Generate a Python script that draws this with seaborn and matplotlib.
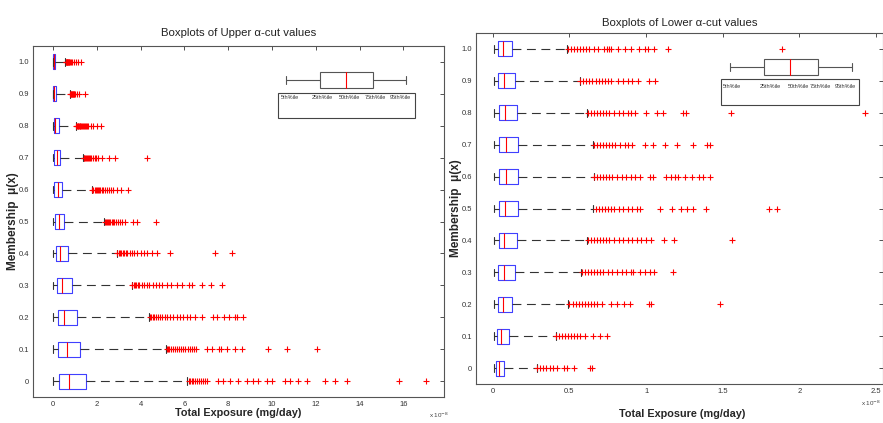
import numpy as np
import pandas as pd
import matplotlib
matplotlib.use("Agg")
import matplotlib.pyplot as plt
from matplotlib.patches import Rectangle
import seaborn as sns

# ---------------- data ----------------
levels = [0.0, 0.1, 0.2, 0.3, 0.4, 0.5, 0.6, 0.7, 0.8, 0.9, 1.0]
level_labels = ["0", "0.1", "0.2", "0.3", "0.4", "0.5", "0.6", "0.7", "0.8", "0.9", "1.0"]

# Upper alpha-cut (x 1e-8)
up_lo = [0.0, 0.0, 0.0, 0.0, 0.0, 0.0, 0.0, 0.0, 0.0, 0.0, 0.0]
up_q1 = [0.29, 0.24, 0.21, 0.17, 0.12, 0.09, 0.06, 0.05, 0.03, 0.01, 0.01]
up_med = [0.74, 0.62, 0.50, 0.43, 0.33, 0.27, 0.21, 0.17, 0.10, 0.06, 0.05]
up_q3 = [1.49, 1.25, 1.08, 0.85, 0.70, 0.52, 0.42, 0.30, 0.26, 0.15, 0.10]
up_hi = [6.13, 5.15, 4.37, 3.61, 2.91, 2.34, 1.78, 1.38, 1.06, 0.79, 0.55]

up_out_00 = [6.20, 6.26, 6.33, 6.40, 6.48, 6.56, 6.65, 6.75, 6.85, 6.95, 7.05, 7.55, 7.78, 8.08, 8.46,
             8.84, 9.15, 9.37, 9.76, 9.99, 10.59, 10.82, 11.20, 11.58, 12.42, 12.89, 13.44, 15.81, 17.02]
up_out_01 = [5.19, 5.25, 5.32, 5.40, 5.48, 5.56, 5.65, 5.75, 5.85, 5.95, 6.05, 6.18, 6.25, 6.35, 6.45,
             6.55, 7.02, 7.26, 7.58, 7.68, 7.93, 8.32, 8.63, 9.82, 10.70, 12.04]
up_out_02 = [4.42, 4.48, 4.55, 4.62, 4.70, 4.80, 4.90, 5.00, 5.10, 5.22, 5.35, 5.50, 5.65, 5.80, 5.95,
             6.10, 6.26, 6.48, 6.80, 7.29, 7.47, 7.81, 8.02, 8.30, 8.39, 8.66]
up_out_03 = [3.62, 3.68, 3.74, 3.80, 3.87, 3.95, 4.05, 4.15, 4.28, 4.40, 4.55, 4.70, 4.85, 5.00, 5.20,
             5.40, 5.65, 5.88, 6.23, 6.35, 6.79, 7.21, 7.72]
up_out_04 = [2.94, 3.00, 3.06, 3.12, 3.18, 3.25, 3.32, 3.40, 3.50, 3.60, 3.72, 3.85, 4.00, 4.15, 4.30,
             4.50, 4.73, 5.34, 7.41, 8.19]
up_out_05 = [2.37, 2.42, 2.47, 2.52, 2.57, 2.62, 2.68, 2.74, 2.80, 2.88, 2.96, 3.05, 3.15, 3.29, 3.64,
             3.85, 4.69]
up_out_06 = [1.80, 1.85, 1.90, 1.95, 2.00, 2.05, 2.10, 2.16, 2.22, 2.30, 2.38, 2.46, 2.55, 2.65, 2.75,
             2.91, 3.09, 3.44]
up_out_07 = [1.40, 1.44, 1.48, 1.52, 1.56, 1.60, 1.65, 1.70, 1.76, 1.82, 1.90, 1.98, 2.07, 2.22, 2.57,
             2.82, 4.30]
up_out_08 = [1.07, 1.10, 1.13, 1.16, 1.19, 1.22, 1.25, 1.28, 1.32, 1.36, 1.40, 1.45, 1.50, 1.56, 1.62,
             1.72, 1.84, 2.00, 2.18]
up_out_09 = [0.80, 0.82, 0.84, 0.86, 0.88, 0.90, 0.92, 0.95, 0.98, 1.01, 1.11, 1.20, 1.46]
up_out_10 = [0.58, 0.60, 0.62, 0.64, 0.66, 0.68, 0.70, 0.72, 0.75, 0.78, 0.82, 0.86, 0.95, 1.05, 1.15, 1.28]
up_outliers = [up_out_00, up_out_01, up_out_02, up_out_03, up_out_04, up_out_05,
               up_out_06, up_out_07, up_out_08, up_out_09, up_out_10]

# Lower alpha-cut
lo_lo = [0.006, 0.006, 0.006, 0.006, 0.006, 0.006, 0.006, 0.006, 0.006, 0.006, 0.006]
lo_q1 = [0.019, 0.026, 0.032, 0.032, 0.037, 0.037, 0.039, 0.039, 0.037, 0.032, 0.032]
lo_med = [0.037, 0.052, 0.065, 0.071, 0.075, 0.080, 0.086, 0.086, 0.080, 0.071, 0.065]
lo_q3 = [0.074, 0.103, 0.123, 0.142, 0.155, 0.161, 0.161, 0.161, 0.157, 0.145, 0.123]
lo_hi = [0.290, 0.409, 0.493, 0.577, 0.617, 0.654, 0.658, 0.656, 0.617, 0.568, 0.486]

lo_out_00 = [0.29, 0.31, 0.33, 0.35, 0.37, 0.39, 0.42, 0.463, 0.484, 0.527, 0.635, 0.65]
lo_out_01 = [0.41, 0.43, 0.45, 0.47, 0.49, 0.51, 0.53, 0.55, 0.57, 0.60, 0.652, 0.699, 0.742]
lo_out_02 = [0.50, 0.52, 0.54, 0.56, 0.58, 0.60, 0.62, 0.64, 0.66, 0.68, 0.71, 0.774, 0.813, 0.854,
             0.893, 1.018, 1.032, 1.484]
lo_out_03 = [0.58, 0.60, 0.62, 0.64, 0.66, 0.68, 0.70, 0.72, 0.75, 0.78, 0.81, 0.84, 0.87, 0.90,
             0.914, 0.957, 0.994, 1.024, 1.054, 1.174]
lo_out_04 = [0.62, 0.64, 0.66, 0.68, 0.70, 0.72, 0.74, 0.76, 0.79, 0.82, 0.85, 0.88, 0.91, 0.94,
             0.97, 1.00, 1.03, 1.12, 1.183, 1.56]
lo_out_05 = [0.67, 0.69, 0.71, 0.73, 0.75, 0.77, 0.79, 0.82, 0.85, 0.88, 0.91, 0.94, 0.96, 1.088,
             1.172, 1.23, 1.266, 1.308, 1.394, 1.80, 1.856]
lo_out_06 = [0.66, 0.68, 0.70, 0.72, 0.74, 0.76, 0.78, 0.81, 0.84, 0.87, 0.90, 0.93, 0.96, 1.024,
             1.043, 1.13, 1.161, 1.187, 1.209, 1.252, 1.301, 1.344, 1.37, 1.415]
lo_out_07 = [0.66, 0.68, 0.70, 0.72, 0.74, 0.76, 0.78, 0.80, 0.83, 0.86, 0.88, 0.905, 0.994, 1.043,
             1.125, 1.20, 1.303, 1.398, 1.419]
lo_out_08 = [0.62, 0.64, 0.66, 0.68, 0.70, 0.72, 0.74, 0.76, 0.79, 0.82, 0.85, 0.88, 0.90, 0.925,
             1.00, 1.07, 1.108, 1.241, 1.258, 1.557, 2.43]
lo_out_09 = [0.57, 0.59, 0.61, 0.63, 0.65, 0.67, 0.69, 0.71, 0.73, 0.75, 0.774, 0.817, 0.85, 0.88,
             0.91, 0.945, 1.02, 1.06]
lo_out_10 = [0.49, 0.51, 0.53, 0.55, 0.57, 0.59, 0.61, 0.63, 0.66, 0.688, 0.725, 0.742, 0.757, 0.774,
             0.817, 0.865, 0.90, 0.955, 0.994, 1.015, 1.054, 1.14, 1.89]
lo_outliers = [lo_out_00, lo_out_01, lo_out_02, lo_out_03, lo_out_04, lo_out_05,
               lo_out_06, lo_out_07, lo_out_08, lo_out_09, lo_out_10]

legend_labels = ["5th%ile", "25th%ile", "50th%ile", "75th%ile", "95th%ile"]

# ---------------- style ----------------
sns.set_style("white")
plt.rcParams["font.family"] = ["Liberation Sans", "DejaVu Sans"]
plt.rcParams["axes.linewidth"] = 0.8

W, H = 883, 423
fig = plt.figure(figsize=(W / 100, H / 100), dpi=100)
axL = fig.add_axes([33 / W, (H - 397) / H, 411 / W, 351 / H])
axR = fig.add_axes([476 / W, (H - 384) / H, 407 / W, 351 / H])


def draw_panel(ax, lo, q1, med, q3, hi, outliers):
    rows = []
    for i, lev in enumerate(levels):
        for v in (lo[i], q1[i], med[i], q3[i], hi[i]):
            rows.append((lev, v))
    df = pd.DataFrame(rows, columns=["level", "value"])
    sns.boxplot(data=df, x="value", y="level", orient="h", native_scale=True,
                whis=(0, 100), width=0.47, fill=False, color="blue", linewidth=0.8,
                showfliers=False, ax=ax,
                boxprops=dict(color="#4040ff"),
                whiskerprops=dict(color="#333333", linestyle=(0, (8, 5))),
                capprops=dict(color="#333333"),
                medianprops=dict(color="red"))
    orows = []
    for i, lev in enumerate(levels):
        for v in outliers[i]:
            orows.append((lev, v))
    odf = pd.DataFrame(orows, columns=["level", "value"])
    sns.scatterplot(data=odf, x="value", y="level", marker="+", color="red",
                    s=24, linewidth=0.8, ax=ax, legend=False, zorder=3)
    ax.set_ylim(-0.05, 1.05)
    ax.set_yticks(levels)
    ax.set_yticklabels(level_labels)
    ax.tick_params(direction="in", top=True, right=True, length=3, width=0.6,
                   labelsize=5.5, colors="#333333", labelcolor="#333333", pad=3)
    for s in ax.spines.values():
        s.set_color("#555555")
        s.set_visible(True)


def draw_legend(ax, rect, wy, box, whisk, med_x, lab_y, lab_x):
    t = ax.transAxes
    ax.add_patch(Rectangle((rect[0], rect[1]), rect[2] - rect[0], rect[3] - rect[1],
                           transform=t, fill=False, edgecolor="#444444", lw=0.8, zorder=4))
    ax.plot([whisk[0], box[0]], [wy, wy], transform=t, color="#555555", lw=0.8, zorder=4)
    ax.plot([box[1], whisk[1]], [wy, wy], transform=t, color="#555555", lw=0.8, zorder=4)
    for xx in whisk:
        ax.plot([xx, xx], [wy - 0.012, wy + 0.012], transform=t, color="#555555", lw=0.8, zorder=4)
    ax.add_patch(Rectangle((box[0], wy - 0.022), box[1] - box[0], 0.044, transform=t,
                           fill=False, edgecolor="#555555", lw=0.8, zorder=4))
    ax.plot([med_x, med_x], [wy - 0.022, wy + 0.022], transform=t, color="red", lw=0.8, zorder=5)
    for lab, xx in zip(legend_labels, lab_x):
        ax.text(xx, lab_y, lab, transform=t, fontsize=4, ha="center", va="center", color="#333333")


draw_panel(axL, up_lo, up_q1, up_med, up_q3, up_hi, up_outliers)
axL.set_xlim(-0.91, 17.85)
axL.set_xticks([0, 2, 4, 6, 8, 10, 12, 14, 16])
axL.set_xticklabels(["0", "2", "4", "6", "8", "10", "12", "14", "16"])
axL.set_title("Boxplots of Upper \u03b1-cut values", fontsize=8.2, color="#222222", pad=7)
axL.set_xlabel("Total Exposure (mg/day)", fontsize=7.8, fontweight="bold")
axL.set_ylabel("Membership  \u03bc(x)", fontsize=8.5, fontweight="bold")
axL.yaxis.set_label_coords(-0.033, 0.5)
axL.xaxis.set_label_coords(0.5, -0.032)
draw_legend(axL, (0.596, 0.795, 0.929, 0.866), 0.903, (0.698, 0.827), (0.616, 0.908), 0.762,
            0.852, [0.625, 0.703, 0.769, 0.832, 0.893])

draw_panel(axR, lo_lo, lo_q1, lo_med, lo_q3, lo_hi, lo_outliers)
axR.set_xlim(-0.11, 2.546)
axR.set_xticks([0, 0.5, 1, 1.5, 2, 2.5])
axR.set_xticklabels(["0", "0.5", "1", "1.5", "2", "2.5"])
axR.set_title("Boxplots of Lower \u03b1-cut values", fontsize=8.2, color="#222222", pad=5)
axR.set_xlabel("Total Exposure (mg/day)", fontsize=7.8, fontweight="bold")
axR.set_ylabel("Membership  \u03bc(x)", fontsize=8.5, fontweight="bold")
axR.yaxis.set_label_coords(-0.035, 0.5)
axR.xaxis.set_label_coords(0.506, -0.072)
draw_legend(axR, (0.602, 0.795, 0.941, 0.869), 0.903, (0.708, 0.840), (0.624, 0.924), 0.771,
            0.849, [0.628, 0.722, 0.791, 0.847, 0.907])

fig.text(429 / W, (H - 415) / H, "x 10$^{-8}$", fontsize=4.5, color="#444444", va="center")
fig.text(881 / W, (H - 403) / H, "x 10$^{-8}$", fontsize=4.5, color="#444444", va="center", ha="right")

fig.savefig("out.png", dpi=100)
